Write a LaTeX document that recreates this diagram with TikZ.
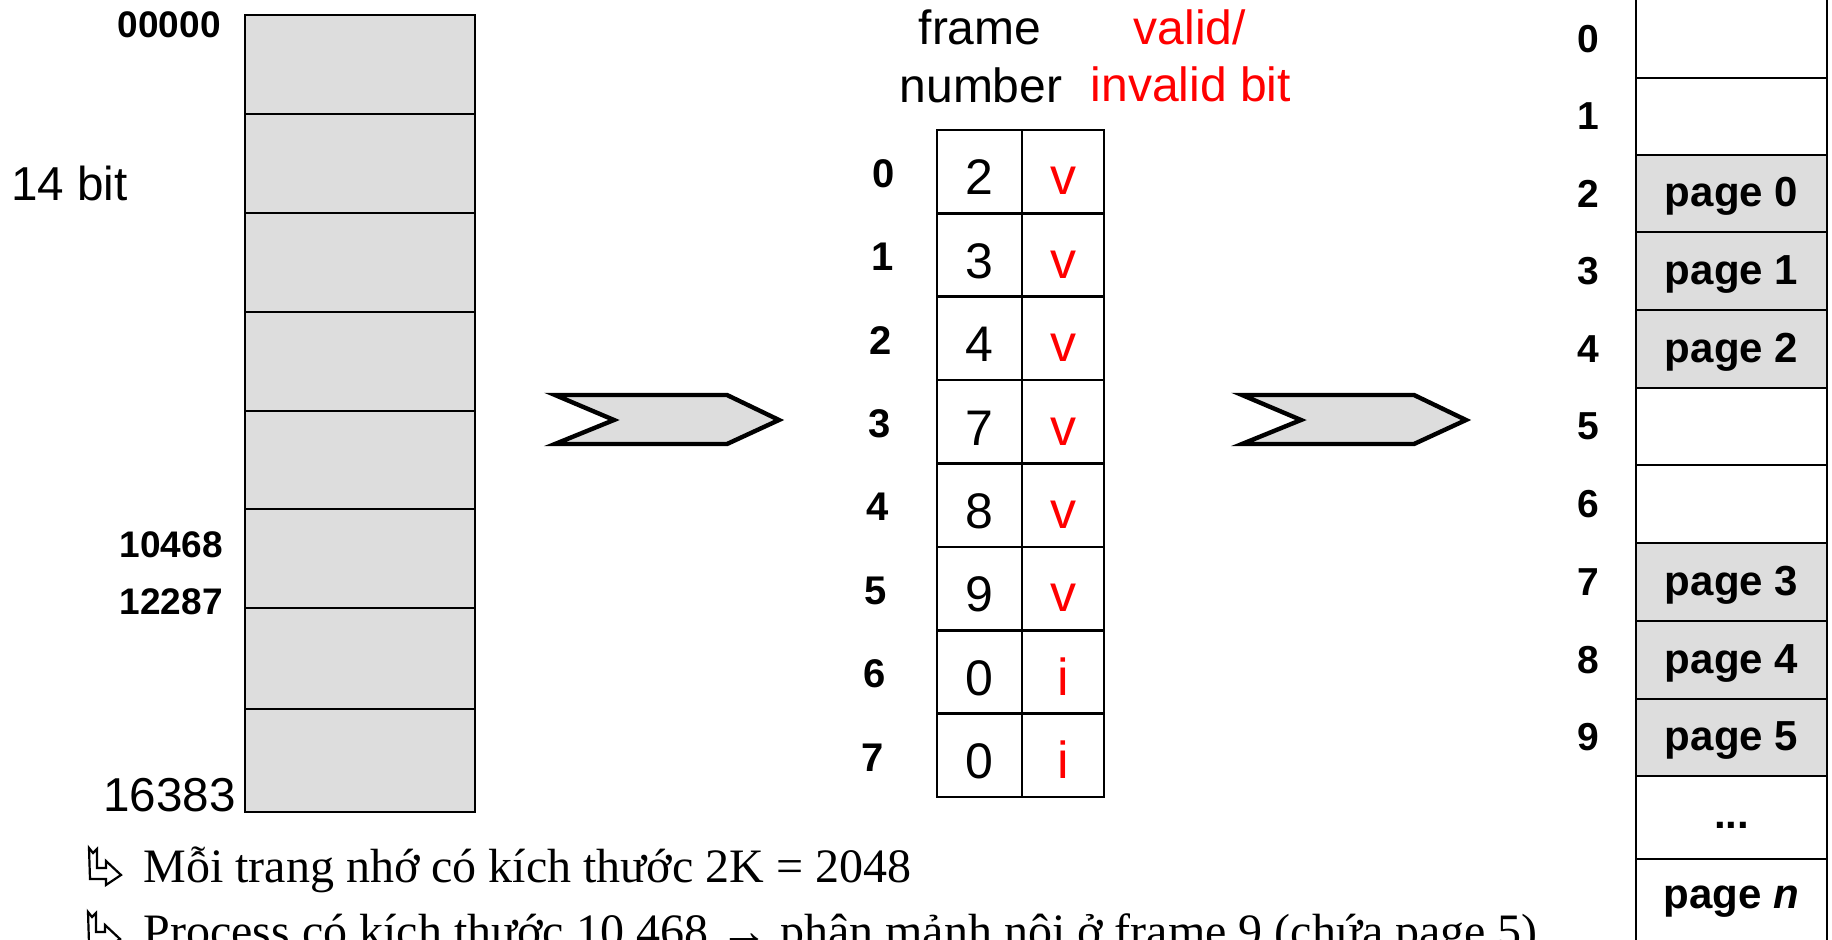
\documentclass[tikz,border=0pt]{standalone}
\usepackage{fontspec}
\setmainfont{Liberation Serif}
\newfontfamily\arial{Liberation Sans}
\newcommand\myfs[1]{\fontsize{#1}{#1}\selectfont}
\definecolor{cellgray}{RGB}{221,221,221}
\definecolor{bitred}{RGB}{255,0,0}
\begin{document}
\begin{tikzpicture}[x=0.5pt,y=-0.5pt,
  cellline/.style={line width=1.3pt},
  chev/.style={draw, line width=2.2pt, fill=cellgray, line join=miter},
  lblb/.style={inner sep=0pt, font=\arial\bfseries\myfs{18.5}},
  lblr/.style={inner sep=0pt, font=\arial\myfs{23.8}},
  tidx/.style={inner sep=0pt, font=\arial\bfseries\myfs{20}},
  tdigit/.style={inner sep=0pt, font=\arial\myfs{25}},
  tbit/.style={inner sep=0pt, text=bitred, font=\arial\myfs{26}},
  hdr/.style={inner sep=0pt, font=\arial\myfs{24}},
  flbl/.style={inner sep=0pt, font=\arial\bfseries\myfs{19.5}},
  pagetxt/.style={inner sep=0pt, font=\arial\bfseries\myfs{21}},
  btext/.style={inner sep=0pt, anchor=base west, font=\myfs{24}},
  bulletsym/.style={draw, line width=1.1pt, line join=miter}
]
\useasboundingbox (0,0) rectangle (1832,940);

% ---------- logical memory column ----------
\fill[cellgray] (245,15) rectangle (475,812);
\foreach \yy in {114,213,312,411,509,608,709}
  \draw[cellline] (245,\yy) -- (475,\yy);
\draw[cellline] (245,15) rectangle (475,812);

\node[lblb, anchor=east] (a0) at (221,24.5) {00000};
\node[lblr, anchor=west] (bits) at (11,183) {14 bit};
\node[lblb, anchor=east] (a1) at (223,545) {10468};
\node[lblb, anchor=east] (a2) at (223,602) {12287};
\node[lblr, anchor=base east] (a3) at (236,812) {16383};

% ---------- chevrons ----------
\draw[chev] (555,395) -- (727,395) -- (779,420) -- (727,444) -- (555,444) -- (614,420) -- cycle;
\draw[chev] (1242,395) -- (1414,395) -- (1466,420) -- (1414,444) -- (1242,444) -- (1301,420) -- cycle;

% ---------- page table ----------
\node[hdr, anchor=base] (fr) at (980,45) {frame};
\node[hdr, anchor=base] (nu) at (981,103) {number};
\node[hdr, text=bitred, anchor=base] (va) at (1190,45) {valid/};
\node[hdr, text=bitred, anchor=base] (inv) at (1191,102) {invalid bit};

\foreach \k in {1,...,7}
  \draw[cellline] (937,{130+\k*83.375}) -- (1104,{130+\k*83.375});
\draw[cellline] (1022,130) -- (1022,797);
\draw[cellline] (937,130) rectangle (1104,797);

\foreach \d/\b [count=\k from 0] in {2/v,3/v,4/v,7/v,8/v,9/v,0/i,0/i} {
  \node[tdigit, anchor=base] (d\k) at (979.5,{130+\k*83.375+65}) {\d};
  \node[tbit, anchor=base] (b\k) at (1063,{130+\k*83.375+65}) {\b};
  \node[tidx] (i\k) at ({884-\k*1.6},{130+(\k+0.5)*83.375+2}) {\k};
}

% ---------- physical memory column ----------
\fill[cellgray] (1636,155) rectangle (1827,388);
\fill[cellgray] (1636,543) rectangle (1827,776);
\foreach \yy in {78,155,232,310,388,465,543,621,699,776,859}
  \draw[cellline] (1636,\yy) -- (1827,\yy);
\draw[cellline] (1636,-5) -- (1636,945);
\draw[cellline] (1827,-5) -- (1827,945);

\foreach \c [count=\k from 0] in {39.5,116.5,193.5,271,349,426.5,504,582,660,737.5}
  \node[flbl] (f\k) at (1588,\c) {\k};

\node[pagetxt, anchor=base] (p0) at (1731.5,207) {page 0};
\node[pagetxt, anchor=base] (p1) at (1731.5,284.5) {page 1};
\node[pagetxt, anchor=base] (p2) at (1731.5,362.5) {page 2};
\node[pagetxt, anchor=base] (p3) at (1731.5,595.5) {page 3};
\node[pagetxt, anchor=base] (p4) at (1731.5,673.5) {page 4};
\node[pagetxt, anchor=base] (p5) at (1731.5,751) {page 5};
\node[pagetxt, anchor=base] (pd) at (1731.5,828) {...};
\node[pagetxt, anchor=base] (pn) at (1731.5,908) {page \textit{n}};

% ---------- bottom notes ----------
\begin{scope}[shift={(89,848)}]
  \draw[bulletsym] (0,0) -- (4,5) -- (8,1) -- (8,20) -- (17,20) -- (17,13) -- (32,27) -- (17,37) -- (17,31) -- (1,31) -- cycle;
\end{scope}
\begin{scope}[shift={(88,912)}]
  \draw[bulletsym] (0,0) -- (4,5) -- (8,1) -- (8,20) -- (17,20) -- (17,13) -- (32,27) -- (17,37) -- (17,31) -- (1,31) -- cycle;
\end{scope}
\node[btext] (t1) at (143,882) {Mỗi trang nhớ có kích thước 2K = 2048};
\node[btext] (t2) at (143,947) {Process có kích thước 10.468 → phân mảnh nội ở frame 9 (chứa page 5)};
\end{tikzpicture}
\end{document}
